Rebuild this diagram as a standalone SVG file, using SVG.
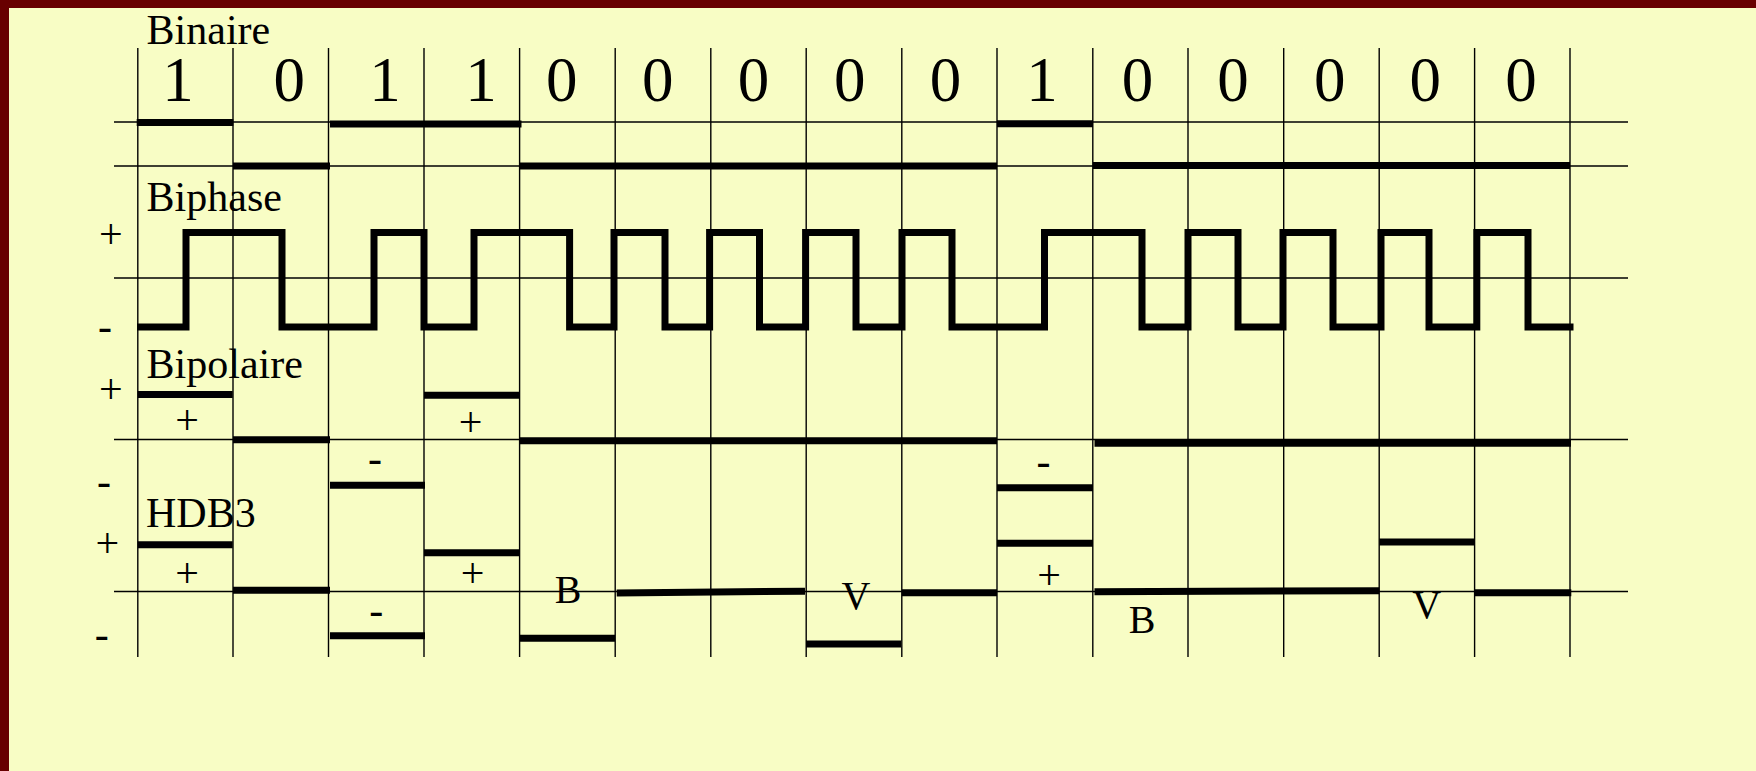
<svg xmlns="http://www.w3.org/2000/svg" width="1756" height="771" viewBox="0 0 1756 771">
<defs>
<style>
.bg{fill:#F8FDC5}
.frame{fill:#680000}
.grid line{stroke:#000;stroke-width:1.4}
.sig{stroke:#000;stroke-width:7;fill:none;stroke-linecap:butt;stroke-linejoin:miter}
.lbl{font-family:"Liberation Serif","Times New Roman",serif;font-size:42px;fill:#000}
.bit{font-family:"Liberation Serif","Times New Roman",serif;font-size:63px;fill:#000;text-anchor:middle}
.sm{font-family:"Liberation Serif","Times New Roman",serif;font-size:42px;fill:#000;text-anchor:middle}
.bv{font-family:"Liberation Serif","Times New Roman",serif;font-size:40px;fill:#000;text-anchor:middle}
</style>
</defs>
<rect class="frame" x="0" y="0" width="1756" height="771"/>
<rect class="bg" x="9" y="8" width="1747" height="763"/>

<g id="grid" class="grid">
<line x1="137.8" y1="48" x2="137.8" y2="657"/>
<line x1="233" y1="48" x2="233" y2="657"/>
<line x1="328.5" y1="48" x2="328.5" y2="657"/>
<line x1="424" y1="48" x2="424" y2="657"/>
<line x1="519.6" y1="48" x2="519.6" y2="657"/>
<line x1="615.2" y1="48" x2="615.2" y2="657"/>
<line x1="710.8" y1="48" x2="710.8" y2="657"/>
<line x1="806.2" y1="48" x2="806.2" y2="657"/>
<line x1="901.8" y1="48" x2="901.8" y2="657"/>
<line x1="997" y1="48" x2="997" y2="657"/>
<line x1="1092.8" y1="48" x2="1092.8" y2="657"/>
<line x1="1188" y1="48" x2="1188" y2="657"/>
<line x1="1283.7" y1="48" x2="1283.7" y2="657"/>
<line x1="1379.2" y1="48" x2="1379.2" y2="657"/>
<line x1="1474.6" y1="48" x2="1474.6" y2="657"/>
<line x1="1570" y1="48" x2="1570" y2="657"/>
<line x1="114" y1="122" x2="1628" y2="122"/>
<line x1="114" y1="166" x2="1628" y2="166"/>
<line x1="114" y1="278" x2="1628" y2="278"/>
<line x1="114" y1="439.5" x2="1628" y2="439.5"/>
<line x1="114" y1="591.5" x2="1628" y2="591.5"/>
</g>

<g id="binaire">
<text class="lbl" x="146.6" y="44.3">Binaire</text>
<g id="bits">
<text class="bit" x="178.1" y="101">1</text>
<text class="bit" x="289.3" y="101">0</text>
<text class="bit" x="385" y="101">1</text>
<text class="bit" x="481" y="101">1</text>
<text class="bit" x="561.8" y="101">0</text>
<text class="bit" x="657.7" y="101">0</text>
<text class="bit" x="753.4" y="101">0</text>
<text class="bit" x="849.8" y="101">0</text>
<text class="bit" x="945.5" y="101">0</text>
<text class="bit" x="1041.9" y="101">1</text>
<text class="bit" x="1137.6" y="101">0</text>
<text class="bit" x="1233.1" y="101">0</text>
<text class="bit" x="1329.7" y="101">0</text>
<text class="bit" x="1425.2" y="101">0</text>
<text class="bit" x="1521" y="101">0</text>
</g>
<path class="sig" d="M136.7 122.5H233.3 M233 166H330 M330 124H521.5 M519 166H997 M997 123.7H1093 M1093 165.5H1570"/>
</g>

<g id="biphase">
<text class="lbl" x="146.6" y="211">Biphase</text>
<text class="lbl" x="99" y="248.3">+</text>
<text class="lbl" x="98" y="339.5">-</text>
<path class="sig" d="M137 327H186V232.5H282V327H374V232.5H424V327H474V232.5H569.6V327H614V232.5H665V327H709.6V232.5H759.5V327H805.6V232.5H856V327H902V232.5H952V327H1044.5V232.5H1142V327H1188V232.5H1238V327H1283V232.5H1333V327H1381V232.5H1429V327H1476.8V232.5H1528V327H1573.5"/>
</g>

<g id="bipolaire">
<text class="lbl" x="146.6" y="378.3">Bipolaire</text>
<text class="lbl" x="99" y="402.7">+</text>
<text class="lbl" x="97" y="494.5">-</text>
<path class="sig" d="M137.8 394.5H232.7 M233 439.7H330 M330 485.3H425 M424 395.3H520 M520 440.7H997 M997 487.7H1093 M1094.5 443.2H1571"/>
<text class="sm" x="187" y="434.3">+</text>
<text class="sm" x="375" y="472">-</text>
<text class="sm" x="470.7" y="436">+</text>
<text class="sm" x="1043.4" y="475">-</text>
</g>

<g id="hdb3">
<text class="lbl" x="146" y="527.3">HDB3</text>
<text class="lbl" x="95.5" y="556.7">+</text>
<text class="lbl" x="94.8" y="647.8">-</text>
<path class="sig" d="M137.8 544.7H232.7 M233 590.3H330 M330 635.7H425 M424 552.7H520 M519 638.3H615 M616.7 593L805 591.2 M806 644H901 M902 592.7H997 M997 543.3H1093 M1094.5 591.7L1379.3 590.7 M1379.3 542H1474 M1474.7 592.7H1571.3"/>
<text class="sm" x="187" y="586.7">+</text>
<text class="sm" x="376.2" y="623.5">-</text>
<text class="sm" x="472.7" y="587.3">+</text>
<text class="sm" x="1049.2" y="589">+</text>
<text class="bv" x="568" y="603.3">B</text>
<text class="bv" x="856" y="609.3">V</text>
<text class="bv" x="1142" y="633.3">B</text>
<text class="bv" x="1426.7" y="618">V</text>
</g>
</svg>
